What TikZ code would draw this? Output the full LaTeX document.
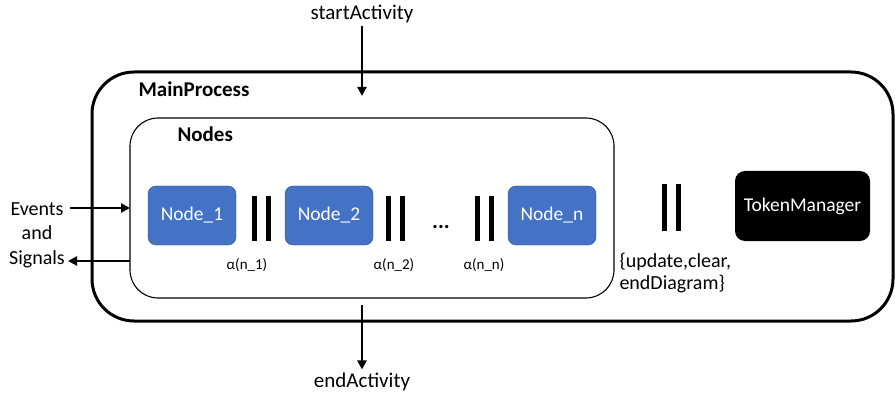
\documentclass[tikz,border=0pt]{standalone}
\usepackage{fontspec}
\setmainfont{Carlito}
\usetikzlibrary{arrows.meta, positioning, calc}
\definecolor{nodeblue}{RGB}{68,114,196}
\definecolor{nodeedge}{RGB}{47,82,143}
\tikzset{
  nodebox/.style={rectangle, draw=nodeedge, fill=nodeblue, text=white,
    minimum width=88pt, minimum height=59pt, rounded corners=8pt,
    font=\fontsize{19.5}{22}\selectfont},
  arrow/.style={-{Triangle[length=9pt, width=9pt]}, line width=2.2pt},
  bar/.style={line width=5pt},
  lbl/.style={font=\fontsize{20}{22}\selectfont},
  alpha/.style={font=\fontsize{15}{18}\selectfont},
  title/.style={anchor=west, font=\fontsize{21}{24}\selectfont\bfseries}
}

\begin{document}
\begin{tikzpicture}[x=1pt, y=-1pt]
  \useasboundingbox (0,0) rectangle (895,393);
  \clip (0,0) rectangle (895,393);

  % Outer process box
  \draw[line width=3pt, rounded corners=42pt] (92,72) rectangle (893,321);
  \node[title] (mainlbl) at (135,89) {MainProcess};

  % Inner box holding the nodes
  \draw[line width=1.1pt, rounded corners=28pt] (130,118) rectangle (614,298);
  \coordinate (nodesw) at (130,208);
  \node[title] (nodeslbl) at (174,134) {Nodes};

  % Blue nodes
  \node[nodebox] (node1) at (192,215.5) {Node\_1};
  \node[nodebox] (node2) at (329,215.5) {Node\_2};
  \node[nodebox] (noden) at (552,215.5) {Node\_n};
  \node[font=\fontsize{22}{24}\selectfont\bfseries] (dots) at (441,227) {...};

  % Parallel bars between nodes
  \foreach \x in {254,268,388,402,477,491} {
    \draw[bar] (\x,196) -- (\x,241);
  }
  \node[alpha] (a1) at (247,265) {α(n\_1)};
  \node[alpha] (a2) at (394,265) {α(n\_2)};
  \node[alpha] (an) at (484,265) {α(n\_n)};

  % Bars towards the token manager
  \draw[bar] (664,184) -- (664,231);
  \draw[bar] (678,184) -- (678,231);
  \node[lbl, anchor=west, align=left] (msgs) at (616,273) {\{update,clear,\\endDiagram\}};

  \node[rectangle, fill=black, text=white, rounded corners=10pt, minimum width=135pt,
    minimum height=70pt, font=\fontsize{19.5}{22}\selectfont] (token) at (802.5,206) {TokenManager};

  % Events and signals
  \node[lbl, align=center, font=\fontsize{20}{24.5}\selectfont] (events) at (37,235) {Events\\and\\Signals};
  \coordinate (evin) at (70,208);
  \coordinate (sigout) at (68,261);
  \draw[arrow] (evin) -- (nodesw);
  \draw[arrow] (sigout -| nodesw) -- (sigout);

  % Activity start / end
  \node[lbl, font=\fontsize{21}{24}\selectfont] (start) at (362,14) {startActivity};
  \coordinate (startin) at (362,96);
  \draw[arrow] (start.south) -- (startin);
  \node[lbl, font=\fontsize{21}{24}\selectfont] (end) at (362,382) {endActivity};
  \coordinate (endout) at (362,305);
  \draw[arrow] (endout) -- (end.north);
\end{tikzpicture}
\end{document}
